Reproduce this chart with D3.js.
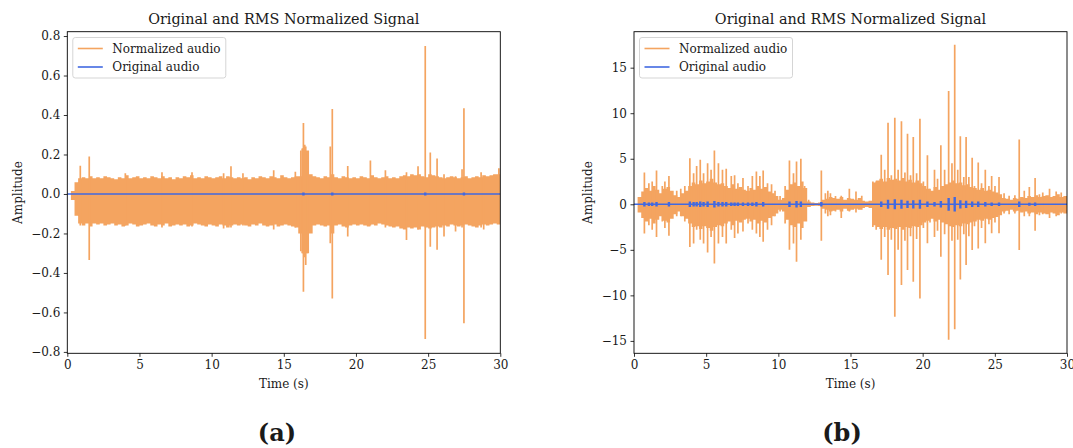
<!DOCTYPE html>
<html>
<head>
<meta charset="utf-8">
<script src="https://cdn.jsdelivr.net/npm/d3@7"></script>
<style>
	body { margin: 0; background: #fff; }
	svg { display: block; }
	text { font-family: 'DejaVu Serif', serif; fill: #1a1a1a; }
</style>
</head>
<body>
<svg id="fig" width="1073" height="448"></svg>
<script>
// ---- values ----
var timeTicks = [0, 5, 10, 15, 20, 25, 30];
var ampTicksA = [-0.8, -0.6, -0.4, -0.2, 0.0, 0.2, 0.4, 0.6, 0.8];
var ampTicksB = [-15, -10, -5, 0, 5, 10, 15];
var legendKeys = ['Normalized audio', 'Original audio'];
var panelTitle = 'Original and RMS Normalized Signal';

// panel (a): envelope of the dense band, one value every 0.25 s
var stepA = 0.25;
var upperA = [
	0, 0.015, 0.06, 0.08, 0.085, 0.08, 0.09, 0.08,
	0.085, 0.08, 0.09, 0.085, 0.08, 0.075, 0.085, 0.08,
	0.095, 0.08, 0.085, 0.09, 0.08, 0.085, 0.08, 0.09,
	0.085, 0.08, 0.09, 0.08, 0.085, 0.075, 0.085, 0.08,
	0.09, 0.085, 0.095, 0.08, 0.085, 0.08, 0.09, 0.085,
	0.08, 0.085, 0.09, 0.08, 0.09, 0.085, 0.08, 0.085,
	0.08, 0.085, 0.075, 0.085, 0.08, 0.09, 0.085, 0.08,
	0.09, 0.085, 0.08, 0.095, 0.085, 0.08, 0.085, 0.09,
	0.09, 0.23, 0.22, 0.1, 0.09, 0.085, 0.08, 0.09,
	0.085, 0.1, 0.085, 0.08, 0.09, 0.085, 0.08, 0.085,
	0.08, 0.09, 0.085, 0.08, 0.095, 0.085, 0.08, 0.085,
	0.09, 0.08, 0.085, 0.08, 0.09, 0.095, 0.09, 0.1,
	0.095, 0.1, 0.09, 0.085, 0.1, 0.095, 0.09, 0.085,
	0.08, 0.085, 0.09, 0.085, 0.08, 0.085, 0.09, 0.08,
	0.085, 0.09, 0.085, 0.095, 0.09, 0.095, 0.1, 0.1,
	0.1
];
var lowerA = [
	0, -0.03, -0.11, -0.15, -0.16, -0.15, -0.165, -0.15,
	-0.155, -0.15, -0.16, -0.155, -0.15, -0.16, -0.155, -0.165,
	-0.16, -0.15, -0.155, -0.165, -0.16, -0.155, -0.15, -0.16,
	-0.165, -0.155, -0.16, -0.15, -0.165, -0.16, -0.155, -0.16,
	-0.155, -0.165, -0.16, -0.15, -0.155, -0.16, -0.165, -0.155,
	-0.16, -0.165, -0.155, -0.16, -0.17, -0.16, -0.155, -0.16,
	-0.155, -0.16, -0.165, -0.155, -0.16, -0.15, -0.16, -0.165,
	-0.16, -0.155, -0.165, -0.16, -0.155, -0.16, -0.165, -0.17,
	-0.2, -0.3, -0.3, -0.2, -0.16, -0.155, -0.16, -0.165,
	-0.16, -0.2, -0.16, -0.155, -0.165, -0.17, -0.16, -0.155,
	-0.16, -0.155, -0.16, -0.165, -0.155, -0.16, -0.15, -0.155,
	-0.16, -0.165, -0.17, -0.165, -0.175, -0.18, -0.17, -0.175,
	-0.17, -0.18, -0.165, -0.17, -0.175, -0.17, -0.165, -0.17,
	-0.16, -0.165, -0.155, -0.16, -0.165, -0.16, -0.155, -0.16,
	-0.165, -0.17, -0.16, -0.155, -0.16, -0.155, -0.15, -0.155,
	-0.155
];
// [time, peak, trough]
var spikesA = [
	[0.9, 0.143, -0.16], [1.52, 0.19, -0.335], [4.02, 0.105, -0.16], [6.56, 0.11, -0.17],
	[8.64, 0.11, -0.165], [10.83, 0.105, -0.175], [11.34, 0.14, -0.17], [12.17, 0.105, -0.16],
	[14.3, 0.12, -0.18], [15.8, 0.113, -0.17], [16.18, 0.22, -0.29], [16.28, 0.23, -0.3],
	[16.36, 0.36, -0.495], [16.45, 0.25, -0.32], [16.52, 0.24, -0.36], [16.62, 0.2, -0.3],
	[18.22, 0.24, -0.25], [18.36, 0.43, -0.53], [19.43, 0.142, -0.215], [21.0, 0.17, -0.16],
	[22.04, 0.12, -0.17], [23.5, 0.11, -0.233], [24.3, 0.14, -0.18], [24.8, 0.75, -0.735],
	[25.15, 0.21, -0.267], [25.62, 0.18, -0.283], [26.1, 0.1, -0.215], [26.9, 0.09, -0.19],
	[27.35, 0.125, -0.17], [27.48, 0.434, -0.655], [28.67, 0.11, -0.17], [28.85, 0.09, -0.18],
	[29.9, 0.13, -0.15]
];
// original audio: [time, half height of the small bump]
var bumpsA = [[16.36, 0.008], [18.36, 0.006], [24.8, 0.008], [27.48, 0.006]];

// panel (b): dense core every 0.25 s, plus the visible peaks
var stepB = 0.25;
var coreHiB = [
	0, 0.8, 1.4, 1.8, 1.5, 2.0, 1.6, 1.2,
	1.7, 1.9, 1.5, 1.0, 0.8, 1.2, 1.5, 2.0,
	2.4, 2.2, 2.6, 2.3, 2.5, 2.8, 2.4, 2.2,
	2.3, 2.0, 1.8, 2.2, 1.7, 1.9, 1.6, 1.5,
	1.8, 1.6, 2.0, 1.7, 1.9, 1.4, 1.2, 0.9,
	0.5, 0.7, 1.6, 2.2, 2.4, 2.0, 2.5, 1.8,
	0.3, 0.2, 0.15, 0.2, 0.5, 0.6, 0.8, 0.7,
	0.6, 0.8, 0.5, 0.7, 0.6, 0.5, 0.7, 0.4,
	0.3, 0.4, 2.4, 2.6, 2.8, 2.5, 2.9, 2.7,
	2.8, 2.6, 2.9, 2.5, 2.7, 2.4, 2.6, 2.3,
	2.0, 1.7, 1.5, 1.9, 1.6, 2.0, 2.2, 2.4,
	2.6, 2.3, 2.4, 2.1, 2.2, 1.9, 1.8, 1.6,
	1.8, 1.5, 1.6, 1.4, 1.3, 1.1, 0.7, 0.6,
	0.5, 0.7, 0.6, 0.8, 0.7, 0.9, 0.8, 1.0,
	0.8, 0.9, 1.0, 0.8, 0.9, 1.1, 0.8, 0.9,
	0.9
];
var coreLoB = [
	0, -0.9, -1.5, -1.9, -1.6, -2.1, -1.7, -1.3,
	-1.8, -2.0, -1.6, -1.1, -0.8, -1.3, -1.6, -2.1,
	-2.5, -2.4, -2.7, -2.4, -2.6, -2.9, -2.5, -2.3,
	-2.4, -2.1, -1.9, -2.3, -1.8, -2.0, -1.7, -1.6,
	-1.9, -1.7, -2.1, -1.8, -2.0, -1.5, -1.3, -1.0,
	-0.6, -0.8, -1.7, -2.3, -2.5, -2.1, -2.6, -1.9,
	-0.3, -0.2, -0.15, -0.2, -0.5, -0.6, -0.8, -0.7,
	-0.6, -0.8, -0.5, -0.7, -0.6, -0.5, -0.6, -0.4,
	-0.3, -0.4, -2.3, -2.5, -2.7, -2.5, -2.8, -2.6,
	-2.7, -2.5, -2.8, -2.5, -2.6, -2.4, -2.5, -2.3,
	-2.0, -1.8, -1.6, -1.9, -1.7, -2.0, -2.2, -2.4,
	-2.5, -2.3, -2.4, -2.1, -2.2, -2.0, -1.9, -1.7,
	-1.8, -1.6, -1.7, -1.5, -1.4, -1.2, -0.8, -0.7,
	-0.6, -0.8, -0.7, -0.9, -0.8, -1.0, -0.9, -1.1,
	-0.9, -1.0, -1.1, -0.9, -1.0, -1.2, -0.9, -1.0,
	-1.0
];
var spikesB = [
	[0.72, 3.5, -3.2], [1.03, 2.3, -2.3], [1.26, 2.5, -2.8], [1.56, 3.7, -3.6],
	[1.96, 2.0, -1.9], [2.14, 2.5, -2.6], [2.42, 3.1, -3.45], [2.96, 1.5, -1.3],
	[3.24, 1.7, -1.3], [3.52, 2.0, -1.9], [3.87, 5.05, -4.7], [4.13, 3.4, -4.3],
	[4.34, 4.2, -2.8], [4.59, 4.9, -3.9], [4.82, 3.4, -4.3], [5.1, 4.5, -5.3],
	[5.34, 3.8, -3.6], [5.57, 5.9, -6.5], [5.85, 4.5, -4.3], [6.13, 3.8, -3.6],
	[6.39, 3.9, -4.3], [6.74, 3.1, -2.8], [6.97, 3.2, -3.7], [7.2, 2.3, -3.2],
	[7.55, 2.9, -3.0], [7.9, 2.0, -2.1], [8.2, 3.1, -2.8], [8.48, 3.6, -3.2],
	[8.72, 3.1, -3.6], [8.95, 3.7, -4.1], [9.25, 2.3, -2.8], [9.53, 2.2, -2.3],
	[9.77, 1.5, -1.3], [10.12, 0.9, -0.8], [10.47, 2.0, -2.1], [10.77, 4.8, -5.0],
	[11.05, 3.4, -4.3], [11.26, 4.7, -6.3], [11.56, 5.0, -3.9], [11.82, 2.0, -1.7],
	[12.1, 0.5, -0.25], [12.98, 3.7, -4.0], [13.26, 1.2, -1.0], [13.43, 1.5, -1.3],
	[13.61, 1.2, -1.2], [13.96, 0.9, -0.8], [14.36, 0.95, -1.5], [14.92, 1.7, -0.8],
	[15.38, 1.4, -0.9], [15.78, 0.95, -0.6], [16.55, 2.5, -2.5], [16.78, 2.5, -2.8],
	[17.13, 5.45, -6.1], [17.37, 3.8, -3.6], [17.6, 8.95, -7.77], [17.83, 3.2, -3.9],
	[18.07, 9.5, -12.36], [18.3, 3.8, -5.0], [18.53, 9.13, -8.87], [18.77, 3.5, -4.0],
	[18.95, 7.74, -7.22], [19.16, 3.2, -3.5], [19.35, 7.4, -8.51], [19.58, 3.4, -3.8],
	[19.81, 9.39, -10.35], [20.05, 2.5, -2.6], [20.33, 5.39, -4.29], [20.51, 1.7, -2.0],
	[20.82, 3.8, -3.6], [21.03, 2.8, -2.9], [21.26, 6.48, -5.77], [21.52, 3.8, -3.3],
	[21.8, 12.44, -14.86], [22.03, 4.5, -4.0], [22.22, 17.51, -13.73], [22.43, 3.8, -3.9],
	[22.61, 7.48, -8.25], [22.85, 3.0, -3.3], [23.01, 7.4, -6.67], [23.2, 3.0, -3.5],
	[23.43, 5.1, -5.03], [23.59, 2.0, -2.4], [23.85, 4.6, -4.84], [24.08, 2.3, -2.6],
	[24.34, 3.8, -4.29], [24.59, 2.0, -2.2], [24.78, 3.1, -3.19], [25.01, 2.0, -2.0],
	[25.29, 3.0, -3.19], [25.64, 1.2, -1.0], [25.99, 0.95, -1.1], [26.39, 1.0, -1.0],
	[26.69, 7.12, -5.03], [27.04, 1.5, -1.3], [27.39, 1.9, -1.3], [27.79, 2.9, -2.9],
	[28.09, 1.1, -1.2], [28.32, 1.3, -1.1], [28.79, 1.7, -1.5], [29.25, 1.4, -1.3],
	[29.6, 1.3, -1.0]
];
var bumpsB = [
	[0.72, 0.25], [1.03, 0.2], [1.26, 0.2], [1.56, 0.25], [2.42, 0.25], [3.87, 0.3],
	[4.13, 0.25], [4.34, 0.25], [4.59, 0.3], [4.82, 0.25], [5.1, 0.3], [5.57, 0.35],
	[5.85, 0.25], [6.13, 0.25], [6.39, 0.25], [6.74, 0.2], [6.97, 0.2], [7.2, 0.2],
	[7.55, 0.2], [7.9, 0.2], [8.2, 0.2], [8.48, 0.25], [8.95, 0.25], [10.77, 0.3],
	[11.26, 0.35], [11.56, 0.3], [12.98, 0.25], [17.13, 0.3], [17.6, 0.5], [18.07, 0.55],
	[18.53, 0.5], [18.95, 0.4], [19.35, 0.45], [19.81, 0.5], [20.33, 0.3], [20.82, 0.25],
	[21.26, 0.35], [21.8, 0.7], [22.22, 0.8], [22.61, 0.45], [23.01, 0.4], [23.43, 0.3],
	[23.85, 0.3], [24.34, 0.25], [24.78, 0.2], [25.29, 0.2], [26.69, 0.3], [27.39, 0.15],
	[27.79, 0.2]
];

var colNorm = '#f4a460',
	colOrig = '#4169e1';

var svg = d3.select('#fig');

function drawPanel(o) {
	var x = d3.scaleLinear().domain([0, 30]).range([o.left, o.right]),
		y = d3.scaleLinear().domain(o.yDomain).range([o.bottom, o.top]);

	var g = svg.append('g');

	g.append('clipPath').attr('id', 'clip-' + o.id)
		.append('rect')
		.attr('x', o.left).attr('y', o.top)
		.attr('width', o.right - o.left).attr('height', o.bottom - o.top);

	var plot = g.append('g').attr('clip-path', 'url(#clip-' + o.id + ')');

	// normalized audio: dense band + peaks
	var env = o.hi.map(function(v, i) { return { t: i * o.step, hi: v, lo: o.lo[i] }; });
	var band = d3.area()
		.curve(d3.curveStepAfter)
		.x(function(d) { return x(d.t); })
		.y0(function(d) { return y(d.lo); })
		.y1(function(d) { return y(d.hi); });

	plot.append('path').datum(env)
		.attr('d', band)
		.attr('fill', colNorm);

	plot.selectAll('.spike').data(o.spikes).enter()
		.append('line').classed('spike', true)
		.attr('x1', function(d) { return x(d[0]); })
		.attr('x2', function(d) { return x(d[0]); })
		.attr('y1', function(d) { return y(d[1]); })
		.attr('y2', function(d) { return y(d[2]); })
		.attr('stroke', colNorm)
		.attr('stroke-width', 1.7);

	// original audio
	plot.append('line')
		.attr('x1', x(0)).attr('x2', x(30))
		.attr('y1', y(0)).attr('y2', y(0))
		.attr('stroke', colOrig)
		.attr('stroke-width', 1.6);

	plot.selectAll('.bump').data(o.bumps).enter()
		.append('line').classed('bump', true)
		.attr('x1', function(d) { return x(d[0]); })
		.attr('x2', function(d) { return x(d[0]); })
		.attr('y1', function(d) { return Math.min(y(d[1]), y(0) - 1.5); })
		.attr('y2', function(d) { return Math.max(y(-d[1]), y(0) + 1.5); })
		.attr('stroke', colOrig)
		.attr('stroke-width', 2.4);

	// axes
	var xAxis = g.append('g')
		.attr('transform', 'translate(0,' + o.bottom + ')')
		.call(d3.axisBottom(x).tickValues(timeTicks).tickSize(3.5).tickPadding(3.5));

	var yAxis = g.append('g')
		.attr('transform', 'translate(' + o.left + ',0)')
		.call(d3.axisLeft(y).tickValues(o.yTicks).tickSize(3.5).tickPadding(3.5).tickFormat(o.fmt));

	[xAxis, yAxis].forEach(function(a) {
		a.select('.domain').remove();
		a.attr('font-family', null).attr('font-size', null);
		a.selectAll('line').attr('stroke', '#000').attr('stroke-width', 0.8);
		a.selectAll('text').style('font-size', '12px').attr('fill', '#1a1a1a');
	});

	g.append('rect')
		.attr('x', o.left).attr('y', o.top)
		.attr('width', o.right - o.left).attr('height', o.bottom - o.top)
		.attr('fill', 'none')
		.attr('stroke', '#000')
		.attr('stroke-width', 0.9);

	// labels
	var cx = (o.left + o.right) / 2;
	g.append('text')
		.attr('x', cx).attr('y', 23.5)
		.attr('text-anchor', 'middle')
		.style('font-size', '14.4px')
		.text(panelTitle);

	g.append('text')
		.attr('x', cx).attr('y', 388)
		.attr('text-anchor', 'middle')
		.style('font-size', '12px')
		.text('Time (s)');

	g.append('text')
		.attr('transform', 'translate(' + (o.left - o.ylabelGap) + ',' + ((o.top + o.bottom) / 2) + ') rotate(-90)')
		.attr('text-anchor', 'middle')
		.style('font-size', '12px')
		.text('Amplitude');

	// legend
	var lx = o.left + 5.5, ly = 37.5;
	var legend = g.append('g').attr('transform', 'translate(' + lx + ',' + ly + ')');
	legend.append('rect')
		.attr('width', 153).attr('height', 40.5)
		.attr('rx', 2.5)
		.attr('fill', '#fff').attr('fill-opacity', 0.8)
		.attr('stroke', '#d0d0d0').attr('stroke-width', 0.9);

	var item = legend.selectAll('.legend').data(legendKeys).enter()
		.append('g').classed('legend', true)
		.attr('transform', function(d, i) { return 'translate(0,' + (11 + i * 18.5) + ')'; });

	item.append('line')
		.attr('x1', 5).attr('x2', 30)
		.attr('stroke', function(d, i) { return i === 0 ? colNorm : colOrig; })
		.attr('stroke-width', 1.6);

	item.append('text')
		.attr('x', 39.5).attr('dy', '.35em')
		.style('font-size', '12px')
		.text(function(d) { return d; });

	svg.append('text')
		.attr('x', o.captionX).attr('y', 441)
		.attr('text-anchor', 'middle')
		.style('font-size', '24px')
		.style('font-weight', 'bold')
		.text(o.caption);
}

drawPanel({
	id: 'a', left: 67.3, right: 500.3, top: 31.7, bottom: 353.3,
	yDomain: [-0.807, 0.822], yTicks: ampTicksA, fmt: d3.format('.1f'),
	step: stepA, hi: upperA, lo: lowerA, spikes: spikesA, bumps: bumpsA,
	ylabelGap: 45.8, caption: '(a)', captionX: 277
});

drawPanel({
	id: 'b', left: 634, right: 1067, top: 31.7, bottom: 353.3,
	yDomain: [-16.36, 18.95], yTicks: ampTicksB, fmt: d3.format('d'),
	step: stepB, hi: coreHiB, lo: coreLoB, spikes: spikesB, bumps: bumpsB,
	ylabelGap: 42, caption: '(b)', captionX: 842
});
</script>
</body>
</html>
